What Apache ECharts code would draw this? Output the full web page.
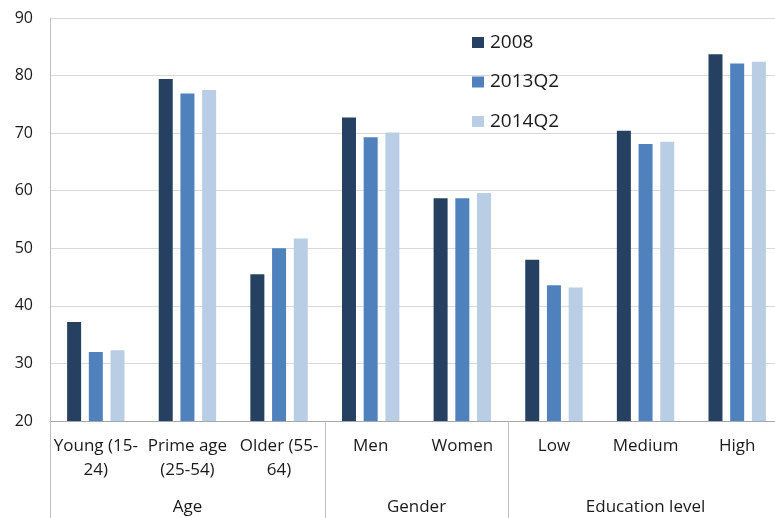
<!DOCTYPE html>
<html>
<head>
<meta charset="utf-8">
<script src="https://cdn.jsdelivr.net/npm/echarts@6/dist/echarts.min.js"></script>
<style>html,body{margin:0;padding:0;background:#fff}#c{width:775px;height:518px}</style>
</head>
<body>
<div id="c"></div>
<script>
const categories = ['Young (15-\n24)', 'Prime age\n(25-54)', 'Older (55-\n64)', 'Men', 'Women', 'Low', 'Medium', 'High'];
const groupNames = ['Age', 'Gender', 'Education level'];
const groupSizes = [3, 2, 3];
const seriesNames = ['2008', '2013Q2', '2014Q2'];
const s2008 = [37.2, 79.4, 45.5, 72.7, 58.7, 48.0, 70.4, 83.7];
const s2013 = [32.0, 76.9, 50.0, 69.3, 58.7, 43.6, 68.1, 82.1];
const s2014 = [32.3, 77.5, 51.7, 70.1, 59.6, 43.2, 68.5, 82.4];
const colors = ['#264061', '#4F81BD', '#B9CDE5'];

const bounds = [0];
groupSizes.forEach(s => bounds.push(bounds[bounds.length - 1] + s));
const centers = groupSizes.map((s, i) => bounds[i] + s / 2);

const font = 'Open Sans';
const txt = '#1a1a1a';
const chart = echarts.init(document.getElementById('c'));
chart.setOption({
  animation: false,
  color: colors,
  textStyle: { fontFamily: font },
  grid: { left: 50, top: 18, width: 733, bottom: 97, containLabel: false, outerBoundsMode: 'none' },
  legend: {
    orient: 'vertical', left: 467, top: 28,
    itemWidth: 12, itemHeight: 11, itemGap: 20.5,
    icon: 'rect',
    textStyle: { fontFamily: font, fontSize: 19, color: txt, padding: [0, 0, 0, 1] },
    data: seriesNames
  },
  xAxis: [
    {
      type: 'category', data: categories, position: 'bottom',
      axisLine: { lineStyle: { color: '#A6A6A6' } },
      axisTick: { length: 60, lineStyle: { color: '#BFBFBF' } },
      axisLabel: { fontFamily: font, fontSize: 17, color: txt, lineHeight: 24, margin: 13, interval: 0 }
    },
    {
      type: 'value', min: 0, max: bounds[bounds.length - 1], position: 'bottom',
      axisLine: { show: false }, splitLine: { show: false },
      axisTick: { show: true, customValues: bounds, length: 97, lineStyle: { color: '#BFBFBF' } },
      axisLabel: {
        customValues: centers, margin: 78, fontFamily: font, fontSize: 17, color: txt,
        formatter: v => groupNames[centers.indexOf(v)] || ''
      }
    }
  ],
  yAxis: {
    type: 'value', min: 20, max: 90, interval: 10,
    axisLine: { show: true, lineStyle: { color: '#BFBFBF' } },
    axisTick: { show: false },
    splitLine: { lineStyle: { color: '#D9D9D9' } },
    axisLabel: { fontFamily: font, fontSize: 16, color: txt, margin: 17 }
  },
  series: [
    { name: seriesNames[0], type: 'bar', data: s2008, barWidth: 14, barGap: '55%', xAxisIndex: 0 },
    { name: seriesNames[1], type: 'bar', data: s2013, barWidth: 14, barGap: '55%', xAxisIndex: 0 },
    { name: seriesNames[2], type: 'bar', data: s2014, barWidth: 14, barGap: '55%', xAxisIndex: 0 }
  ]
});
</script>
</body>
</html>
